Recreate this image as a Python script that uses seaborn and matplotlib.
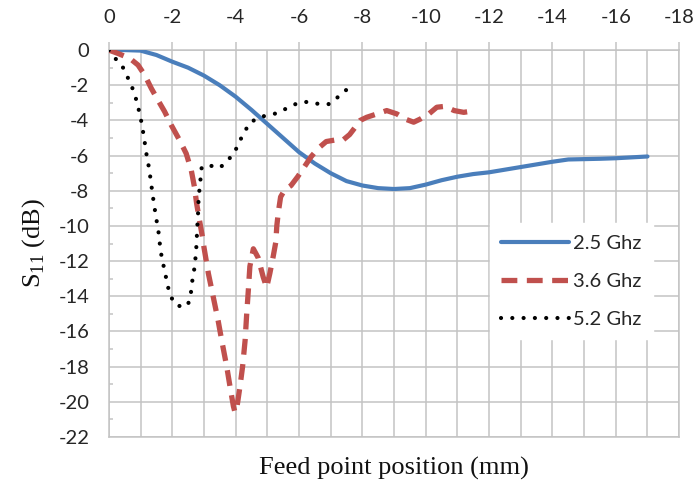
import matplotlib
matplotlib.use("Agg")
import matplotlib.pyplot as plt
from matplotlib.ticker import MultipleLocator, FixedLocator
import seaborn as sns
import pandas as pd

# S11 versus feed point position for three frequencies
pos_25 = [0, -0.5, -1, -1.5, -2, -2.5, -3, -3.5, -4, -4.5, -5, -5.5, -6, -6.5, -7,
          -7.5, -8, -8.5, -9, -9.5, -10, -10.5, -11, -11.5, -12, -12.5, -13, -13.5,
          -14, -14.5, -15, -15.5, -16, -16.5, -17]
s11_25 = [0, 0, -0.03, -0.28, -0.66, -1.0, -1.45, -2.0, -2.65, -3.4, -4.2, -5.0, -5.8,
          -6.45, -7.0, -7.45, -7.7, -7.85, -7.9, -7.85, -7.65, -7.4, -7.2, -7.05, -6.95,
          -6.8, -6.65, -6.5, -6.35, -6.22, -6.2, -6.18, -6.15, -6.1, -6.05]

pos_36 = [0, -0.3, -0.66, -0.92, -1.13, -1.34, -1.55, -1.76, -1.97, -2.23, -2.44, -2.6,
          -2.7, -2.77, -2.86, -2.95, -3.0, -3.14, -3.29, -3.45, -3.56, -3.72, -3.82,
          -3.93, -3.98, -4.05, -4.14, -4.22, -4.3, -4.35, -4.4, -4.45, -4.56, -4.71,
          -4.87, -4.98, -5.08, -5.19, -5.27, -5.3, -5.35, -5.42, -5.55, -5.75, -5.96,
          -6.17, -6.38, -6.6, -6.86, -7.12, -7.4, -7.6, -7.77, -7.93, -8.14, -8.46,
          -8.77, -9.09, -9.35, -9.62, -9.83, -10.1, -10.35, -10.6, -10.9, -11.2, -11.57]
s11_36 = [0, -0.2, -0.47, -0.85, -1.42, -2.18, -2.85, -3.5, -4.27, -5.12, -5.88, -6.83,
          -7.78, -8.73, -9.68, -10.6, -11.2, -12.7, -14.0, -15.4, -16.5, -18.0, -19.1,
          -20.25, -20.6, -20.2, -19.1, -18.0, -16.5, -15.0, -13.7, -12.3, -11.3, -11.8,
          -12.9, -13.5, -12.7, -11.7, -10.9, -10.0, -9.2, -8.35, -7.95, -7.7, -7.2,
          -6.64, -6.07, -5.6, -5.2, -5.12, -5.1, -4.8, -4.4, -4.0, -3.82, -3.63, -3.44,
          -3.63, -3.92, -4.1, -3.92, -3.63, -3.25, -3.2, -3.44, -3.54, -3.44]

pos_52 = [0, -0.2, -0.42, -0.58, -0.72, -0.84, -1.0, -1.05, -1.12, -1.15, -1.23, -1.33,
          -1.37, -1.47, -1.58, -1.61, -1.66, -1.73, -1.8, -1.87, -1.98, -2.16, -2.48,
          -2.58, -2.61, -2.66, -2.72, -2.74, -2.77, -2.78, -2.8, -2.82, -2.83, -2.86,
          -2.9, -2.93, -3.22, -3.5, -3.76, -3.97, -4.12, -4.27, -4.43, -4.72, -5.03,
          -5.35, -5.66, -5.98, -6.29, -6.64, -6.96, -7.21, -7.45, -7.6]
s11_52 = [0, -0.47, -0.9, -1.5, -2.05, -2.67, -3.8, -4.4, -5.0, -5.6, -6.3, -7.5, -8.1,
          -9.3, -10.5, -11.06, -11.7, -12.3, -12.9, -13.5, -14.1, -14.55, -14.55, -14.0,
          -13.4, -12.8, -12.2, -11.6, -11.0, -10.4, -9.75, -9.1, -8.5, -7.9, -7.2, -6.64,
          -6.58, -6.7, -6.26, -5.8, -5.2, -4.7, -4.17, -3.83, -3.7, -3.57, -3.26, -3.0,
          -2.94, -3.07, -3.07, -2.7, -2.3, -2.2]

labels = ["2.5 Ghz", "3.6 Ghz", "5.2 Ghz"]
x_ticks = [0, -2, -4, -6, -8, -10, -12, -14, -16, -18]
y_ticks = [0, -2, -4, -6, -8, -10, -12, -14, -16, -18, -20, -22]

sns.set_style("white")
plt.rcParams["mathtext.fontset"] = "custom"
plt.rcParams["mathtext.rm"] = "Liberation Serif"

fig = plt.figure(figsize=(6.98, 4.91), dpi=100)
ax = fig.add_axes([0.156, 0.110, 0.817, 0.788])

grid_c = "#c3c3c3"
text_c = "#262626"

series = [
    (pos_25, s11_25, labels[0], "#4a7ebb", dict(linewidth=3.0, linestyle="-", solid_capstyle="round",
                                                 solid_joinstyle="round")),
    (pos_36, s11_36, labels[1], "#c0504d", dict(linewidth=3.8, linestyle=(0, (3.0, 1.8)), dash_capstyle="butt",
                                                 dash_joinstyle="round")),
    (pos_52, s11_52, labels[2], "#000000", dict(linewidth=3.0, linestyle=(0, (0.01, 2.7)), dash_capstyle="round")),
]

for xs, ys, lab, col, kw in series:
    df = pd.DataFrame({"pos": xs, "s11": ys})
    sns.lineplot(data=df, x="pos", y="s11", sort=False, color=col, label=lab, ax=ax, zorder=3, **kw)

ax.set_xlim(0, -18)
ax.set_ylim(-22, 0)

ax.xaxis.set_major_locator(FixedLocator(x_ticks))
ax.xaxis.set_minor_locator(MultipleLocator(1))
ax.yaxis.set_major_locator(FixedLocator(y_ticks))
ax.yaxis.set_minor_locator(MultipleLocator(1))
ax.set_xticklabels([str(v) for v in x_ticks])
ax.set_yticklabels([str(v) for v in y_ticks])

ax.xaxis.tick_top()
ax.tick_params(axis="x", which="major", direction="out", length=6, width=1.1, color=grid_c,
               pad=11, labelsize=14.5, labelcolor=text_c)
ax.tick_params(axis="x", which="minor", length=0)
ax.tick_params(axis="y", which="major", length=0, pad=14, labelsize=14.5, labelcolor=text_c)
ax.tick_params(axis="y", which="minor", direction="in", length=3, width=1.1, color=grid_c, left=True)
for lab in ax.get_xticklabels() + ax.get_yticklabels():
    lab.set_fontfamily("Lato")

ax.grid(True, axis="x", which="both", color=grid_c, linewidth=1.1)
ax.grid(True, axis="y", which="major", color=grid_c, linewidth=1.1)
ax.set_axisbelow(True)
for sp in ax.spines.values():
    sp.set_color(grid_c)
    sp.set_linewidth(1.1)

ax.set_xlabel("Feed point position (mm)", fontfamily="Liberation Serif", fontsize=19,
              color="#111111", labelpad=14)
ax.xaxis.set_label_position("bottom")
ax.set_ylabel("S$_{\\mathrm{11}}$ (dB)", fontfamily="Liberation Serif", fontsize=19,
              color="#111111", labelpad=8)

leg = ax.legend(loc="upper left", bbox_to_anchor=(0.668, 0.552), frameon=True, fancybox=False,
                framealpha=1.0, edgecolor="white", facecolor="white",
                handlelength=3.4, handletextpad=0.2, labelspacing=1.05, borderpad=0.55,
                borderaxespad=0.0, prop={"family": "Lato", "size": 14.5})
for t in leg.get_texts():
    t.set_color(text_c)
leg.set_zorder(5)

fig.savefig("out.png", dpi=100)
